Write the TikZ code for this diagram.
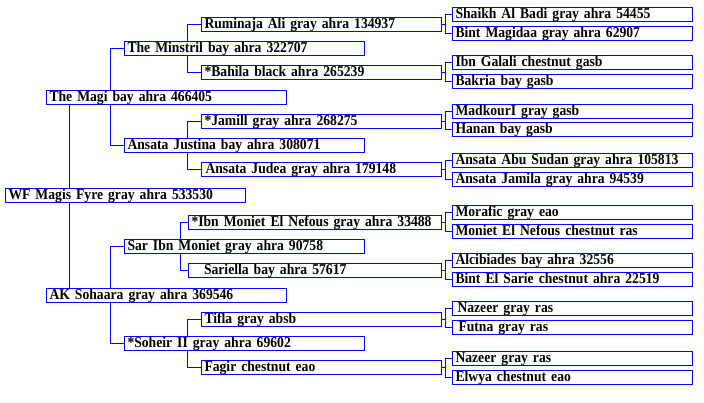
\documentclass[tikz,border=0pt]{standalone}
\usepackage{fontspec}
\setmainfont{Liberation Serif}
\usepackage{tikz}
\usepackage{xcolor}
\usetikzlibrary{backgrounds}
\definecolor{pblue}{RGB}{0,0,255}
\newfontfamily\pedfont[FakeStretch=0.91]{Liberation Serif}

\tikzset{
  pbox/.style={color=pblue, draw, fill=white, text=black, line width=1bp, anchor=north west,
    inner xsep=3.5bp, inner ysep=0bp, text width=233bp, text height=11.5bp,
    text depth=2.5bp, align=left, font=\pedfont\bfseries\fontsize{15bp}{15bp}\selectfont},
  widebox/.style={pbox, text width=246bp},
  link/.style={color=pblue, line width=1bp}
}

\begin{document}
\begin{tikzpicture}[x=1bp, y=-1bp]
\useasboundingbox (0,0) rectangle (704,402);
\begin{scope}[shift={(0.5,0.5)}]
		% root and parents
		\node[pbox] (root) at (4,187) {WF Magis Fyre gray ahra 533530};
		\node[pbox] (sire) at (45,89) {The Magi bay ahra 466405};
		\node[pbox] (dam) at (45,287) {AK Sohaara gray ahra 369546};
		% grandparents
		\node[pbox] (ss) at (123,40) {The Minstril bay ahra 322707};
		\node[pbox] (sd) at (123,137) {Ansata Justina bay ahra 308071};
		\node[pbox] (ds) at (123,238) {Sar Ibn Moniet gray ahra 90758};
		\node[pbox] (dd) at (123,335) {*Soheir II gray ahra 69602};
		% great grandparents
		\node[pbox] (sss) at (200,16) {Ruminaja Ali gray ahra 134937};
		\node[pbox] (ssd) at (200,64) {*Bahila black ahra 265239};
		\node[pbox] (sds) at (200,113) {*Jamill gray ahra 268275};
		\node[pbox] (sdd) at (200,161) {\hspace*{1bp}Ansata Judea gray ahra 179148};
		\node[widebox] (dss) at (187,214) {*Ibn Moniet El Nefous gray ahra 33488};
		\node[widebox] (dsd) at (187,262) {\hspace*{12.5bp}Sariella bay ahra 57617};
		\node[pbox] (dds) at (200,311) {Tifla gray absb};
		\node[pbox] (ddd) at (200,359) {Fagir chestnut eao};
		% fourth generation
		\node[pbox] (ssss) at (451,6) {Shaikh Al Badi gray ahra 54455};
		\node[pbox] (sssd) at (451,25) {Bint Magidaa gray ahra 62907};
		\node[pbox] (ssds) at (451,54) {Ibn Galali chestnut gasb};
		\node[pbox] (ssdd) at (451,73) {Bakria bay gasb};
		\node[pbox] (sdss) at (451,103) {MadkourI gray gasb};
		\node[pbox] (sdsd) at (451,121) {Hanan bay gasb};
		\node[pbox] (sdds) at (451,152) {Ansata Abu Sudan gray ahra 105813};
		\node[pbox] (sddd) at (451,171) {Ansata Jamila gray ahra 94539};
		\node[pbox] (dsss) at (451,204) {Morafic gray eao};
		\node[pbox] (dssd) at (451,223) {Moniet El Nefous chestnut ras};
		\node[pbox] (dsds) at (451,252) {Alcibiades bay ahra 32556};
		\node[pbox] (dsdd) at (451,271) {Bint El Sarie chestnut ahra 22519};
		\node[pbox] (ddss) at (451,300) {\hspace*{2bp}Nazeer gray ras};
		\node[pbox] (ddsd) at (451,319) {\hspace*{3bp}Futna gray ras};
		\node[pbox] (ddds) at (451,350) {Nazeer gray ras};
		\node[pbox] (dddd) at (451,369) {Elwya chestnut eao};
		\begin{scope}[on background layer]
		% left side links
		\draw[link] ([xshift=24bp]sire.south west) -- ([xshift=24bp]dam.north west);
		\draw[link] (ss.west) -- ++(-13bp,0) |- (sd.west);
		\draw[link] (ds.west) -- ++(-13bp,0) |- (dd.west);
		\draw[link] (sss.west) -- ++(-13bp,0) |- (ssd.west);
		\draw[link] (sds.west) -- ++(-13bp,0) |- (sdd.west);
		\draw[link] (dss.west) -- ++(-7bp,0) |- (dsd.west);
		\draw[link] (dds.west) -- ++(-13bp,0) |- (ddd.west);
		% right side brackets
		\foreach \a/\b/\c in {sss/ssss/sssd, ssd/ssds/ssdd, sds/sdss/sdsd, sdd/sdds/sddd,
		                      dss/dsss/dssd, dsd/dsds/dsdd, dds/ddss/ddsd, ddd/ddds/dddd} {
			\draw[link] (\a.east) -- ++(4bp,0);
			\draw[link] (\b.west) -- ++(-6bp,0) |- (\c.west);
		}
		\end{scope}
\end{scope}
\end{tikzpicture}
\end{document}
